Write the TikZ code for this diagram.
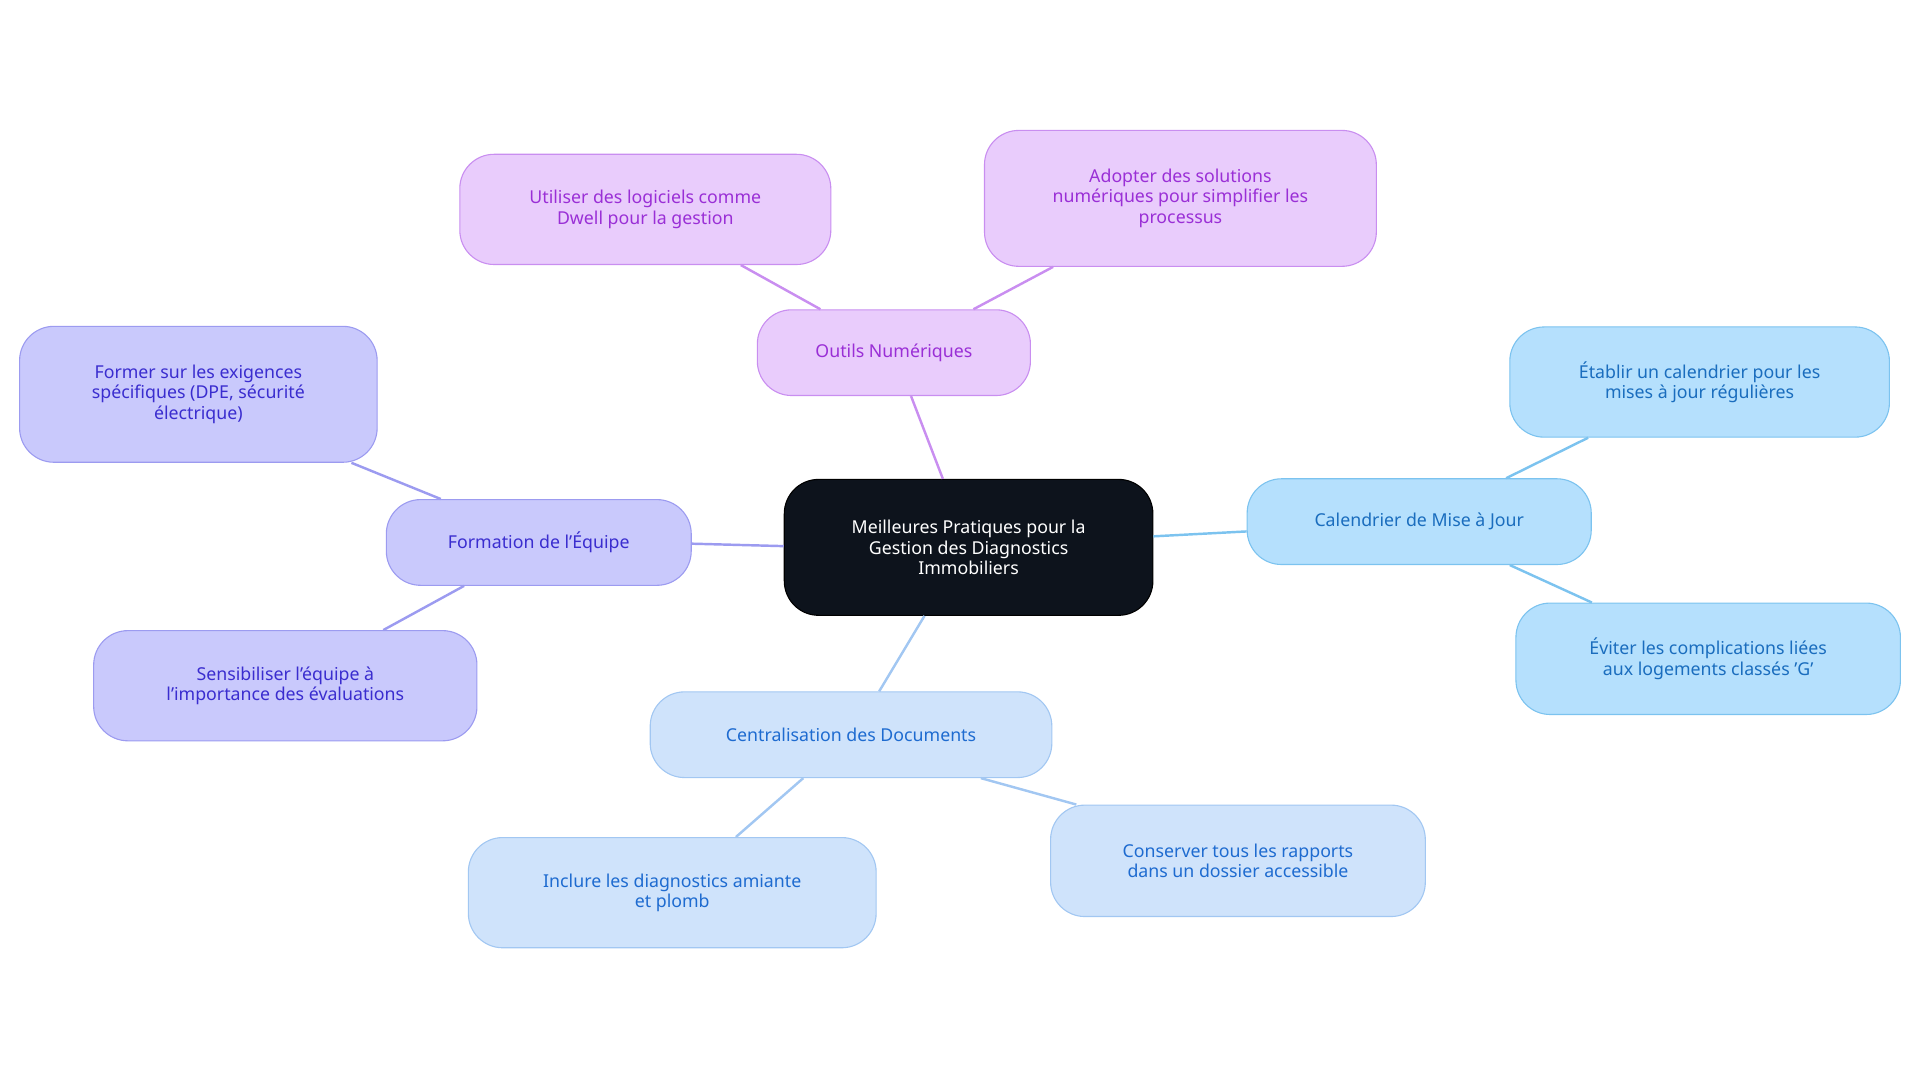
\documentclass[tikz,border=0pt]{standalone}
\usepackage{fontspec}
\setmainfont{Noto Sans}
\begin{document}
\begin{tikzpicture}[x=1pt,y=-1pt,
 box/.style={draw,rounded corners=28pt,line width=0.9pt,align=center,font=\fontsize{14.5}{16.5}\selectfont,inner sep=0pt},
 pur/.style={box,fill=purBG,draw=purBD,text=purTX},
 vio/.style={box,fill=vioBG,draw=vioBD,text=vioTX},
 sky/.style={box,fill=skyBG,draw=skyBD,text=skyTX},
 pal/.style={box,fill=palBG,draw=palBD,text=palTX},
 ln/.style={line width=2pt}]
\definecolor{purBG}{HTML}{E9CCFC}\definecolor{purBD}{HTML}{C98EF0}\definecolor{purTX}{HTML}{9A2FD6}
\definecolor{vioBG}{HTML}{C9C9FC}\definecolor{vioBD}{HTML}{9C9BF0}\definecolor{vioTX}{HTML}{3A2DCF}
\definecolor{skyBG}{HTML}{B5E0FD}\definecolor{skyBD}{HTML}{7CC3EF}\definecolor{skyTX}{HTML}{1A6DBE}
\definecolor{palBG}{HTML}{CFE3FB}\definecolor{palBD}{HTML}{A2C7F2}\definecolor{palTX}{HTML}{1E6BD0}
\definecolor{cBG}{HTML}{0D131C}
\useasboundingbox (0,0) rectangle (1568,884);
\node[box,fill=cBG,draw=black,text=white,minimum width=301pt,minimum height=111pt] (c) at (791,447) {Meilleures Pratiques pour la\\Gestion des Diagnostics\\Immobiliers};
\node[pur,minimum width=223pt,minimum height=70pt] (o) at (730,288) {Outils Numériques};
\node[pur,minimum width=303pt,minimum height=90pt] (o1) at (527,171) {Utiliser des logiciels comme\\Dwell pour la gestion};
\node[pur,minimum width=320pt,minimum height=111pt] (o2) at (964,162) {Adopter des solutions\\numériques pour simplifier les\\processus};
\node[vio,minimum width=249pt,minimum height=70pt] (f) at (440,443) {Formation de l'Équipe};
\node[vio,minimum width=292pt,minimum height=111pt] (f1) at (162,322) {Former sur les exigences\\spécifiques (DPE, sécurité\\électrique)};
\node[vio,minimum width=313pt,minimum height=90pt] (f2) at (233,560) {Sensibiliser l'équipe à\\l'importance des évaluations};
\node[sky,minimum width=281pt,minimum height=70pt] (k) at (1159,426) {Calendrier de Mise à Jour};
\node[sky,minimum width=310pt,minimum height=90pt] (k1) at (1388,312) {Établir un calendrier pour les\\mises à jour régulières};
\node[sky,minimum width=314pt,minimum height=91pt] (k2) at (1395,538) {Éviter les complications liées\\aux logements classés 'G'};
\node[pal,minimum width=328pt,minimum height=70pt] (d) at (695,600) {Centralisation des Documents};
\node[pal,minimum width=333pt,minimum height=90pt] (d1) at (549,729) {Inclure les diagnostics amiante\\et plomb};
\node[pal,minimum width=306pt,minimum height=91pt] (d2) at (1011,703) {Conserver tous les rapports\\dans un dossier accessible};
\draw[ln,purBD] (c.north -| 770,0) -- (o.south -| 744,0);
\draw[ln,purBD] (o.north -| 670,0) -- (o1.south -| 605,0);
\draw[ln,purBD] (o.north -| 795,0) -- (o2.south -| 860,0);
\draw[ln,vioBD] (c.west |- 0,446) -- (f.east |- 0,444);
\draw[ln,vioBD] (f.north -| 360,0) -- (f1.south -| 287,0);
\draw[ln,vioBD] (f.south -| 379,0) -- (f2.north -| 313,0);
\draw[ln,skyBD] (c.east |- 0,438) -- (k.west |- 0,434);
\draw[ln,skyBD] (k.north -| 1230,0) -- (k1.south -| 1297,0);
\draw[ln,skyBD] (k.south -| 1233,0) -- (k2.north -| 1300,0);
\draw[ln,palBD] (c.south -| 755,0) -- (d.north -| 718,0);
\draw[ln,palBD] (d.south -| 656,0) -- (d1.north -| 601,0);
\draw[ln,palBD] (d.south -| 801,0) -- (d2.north -| 879,0);
\end{tikzpicture}
\end{document}
